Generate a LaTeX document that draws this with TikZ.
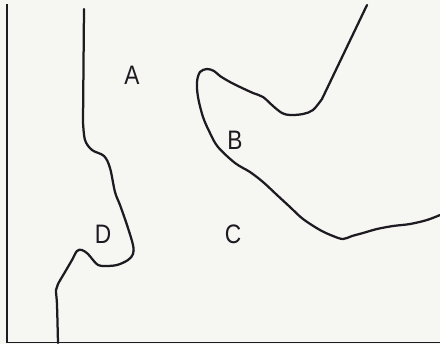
\documentclass[tikz,border=0pt]{standalone}
\usepackage{fontspec}
\setmainfont{Liberation Sans}
\usepackage{xcolor}
\usetikzlibrary{positioning}
\definecolor{ink}{HTML}{1E1A22}
\definecolor{paper}{HTML}{F6F6F2}

\begin{document}
\begin{tikzpicture}[
  x=0.025cm, y=-0.025cm,
  frame/.style={draw=ink, line width=0.9pt},
  shore/.style={draw=ink, line width=1.6pt, line join=round, line cap=round},
  region/.style={text=ink, font=\fontsize{19}{22}\selectfont, inner sep=0pt},
]
\fill[paper] (0,0) rectangle (440,344);
\useasboundingbox (0,0) rectangle (440,344);
\draw[frame] (7,4) -- (7,342.5) -- (440,342.5);
\draw[shore] (84,9) -- (83,122) -- plot[smooth, tension=0.55] coordinates {
  (83,122) (85,140) (92,150) (104,156) (110,168) (115,192) (120,205)
  (127,225) (133,245) (133,254) (128,260) (117,265) (105,266) (98,265)
  (93,260) (88,254) (82,250) (77,251) (72,260) (65,272) (58,284)
  (56,290) (57,305) (58,343)};
\draw[shore] (367,5) -- (322,99) -- plot[smooth, tension=0.55] coordinates {
  (322,99) (313,110) (303,114) (290,115) (282,113) (273,106) (263,97)
  (253,93) (240,87) (230,82) (220,76) (214,71) (207,69) (200,72)
  (197,82) (198,97) (203,117) (210,133) (218,147) (235,163) (250,172)
  (263,182) (277,195) (290,207) (303,219) (320,230) (333,236) (343,239)
  (352,236) (363,233) (377,229) (393,226) (410,224) (427,220) (440,215)};
\node[region] (regA) at (132,75) {\scalebox{0.85}[1]{A}};
\node[region] (regB) at (235,140.5) {\scalebox{0.85}[1]{B}};
\node[region] (regC) at (233,234) {\scalebox{0.85}[1]{C}};
\node[region] (regD) at (103,234) {\scalebox{0.85}[1]{D}};
\end{tikzpicture}
\end{document}
